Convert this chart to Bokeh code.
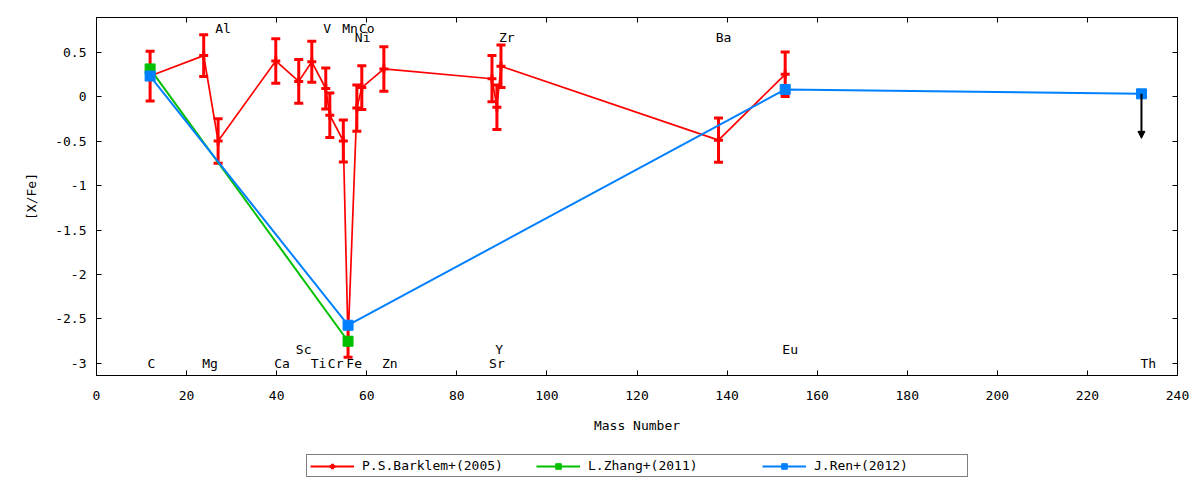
from bokeh.plotting import figure
from bokeh.layouts import column
from bokeh.models import (Range1d, LinearAxis, FixedTicker, ColumnDataSource, Whisker,
                          TeeHead, Arrow, NormalHead, Legend, LegendItem)
from bokeh.core.properties import value
from bokeh.embed import file_html
from bokeh.resources import INLINE

FONT = "DejaVu Sans Mono"
FS = "13px"

# ---- data ----
barklem_mass = [11.9, 23.8, 27.0, 39.8, 44.9, 47.8, 50.9, 51.8, 54.8, 55.85,
                57.8, 58.9, 63.8, 87.8, 88.9, 89.8, 138.1, 152.9]
barklem_xfe = [0.23, 0.46, -0.50, 0.40, 0.17, 0.39, 0.09, -0.21, -0.50, -2.75,
               -0.13, 0.10, 0.31, 0.20, -0.12, 0.34, -0.49, 0.25]
barklem_err = [0.28, 0.235, 0.25, 0.25, 0.245, 0.23, 0.23, 0.25, 0.235, 0.18,
               0.26, 0.245, 0.25, 0.26, 0.25, 0.24, 0.25, 0.25]

zhang_mass = [11.9, 55.85]
zhang_xfe = [0.31, -2.75]

ren_mass = [11.9, 55.85, 152.9, 232.0]
ren_xfe = [0.23, -2.57, 0.08, 0.03]

# Th upper limit arrow
th_mass = 232.0
th_from = 0.03
th_to = -0.47

label_text = ["C", "Mg", "Ca", "Sc", "Ti", "Cr", "Fe", "Zn", "Sr", "Y", "Eu", "Th",
              "Al", "V", "Mn", "Co", "Ni", "Zr", "Ba"]
label_mass = [12.2, 25.2, 41.2, 46.0, 49.3, 53.1, 57.2, 65.1, 88.9, 89.4, 154.0, 233.5,
              28.1, 51.2, 56.3, 60.0, 59.1, 91.1, 139.2]
label_y = [-3.0, -3.0, -3.0, -2.84, -3.0, -3.0, -3.0, -3.0, -3.0, -2.84, -2.84, -3.0,
           0.77, 0.77, 0.77, 0.77, 0.66, 0.66, 0.66]

series_names = ["P.S.Barklem+(2005)", "L.Zhang+(2011)", "J.Ren+(2012)"]

x_ticks = [0, 20, 40, 60, 80, 100, 120, 140, 160, 180, 200, 220, 240]
y_ticks = [-3, -2.5, -2, -1.5, -1, -0.5, 0, 0.5]
y_tick_labels = ["-3", "-2.5", "-2", "-1.5", "-1", "-0.5", "0", "0.5"]

RED = "#ff0000"
GREEN = "#00c000"
BLUE = "#0080ff"

p = figure(width=1192, height=435,
           x_range=Range1d(0, 240), y_range=Range1d(-3.135, 0.888),
           output_backend="svg", toolbar_location=None,
           min_border_left=96, min_border_right=15, min_border_top=17, min_border_bottom=60,
           background_fill_color="white", border_fill_color="white")
p.grid.visible = False
p.outline_line_color = "black"
p.outline_line_width = 1

xa = p.xaxis[0]
ya = p.yaxis[0]
xa.ticker = FixedTicker(ticks=x_ticks)
ya.ticker = FixedTicker(ticks=y_ticks)
ya.major_label_overrides = {t: s for t, s in zip(y_ticks, y_tick_labels)}
for ax in (xa, ya):
    ax.major_tick_in = 5
    ax.major_tick_out = 0
    ax.minor_tick_line_color = None
    ax.axis_line_color = "black"
    ax.major_tick_line_color = "black"
    ax.major_label_text_font = FONT
    ax.major_label_text_font_size = FS
    ax.major_label_text_color = "black"
    ax.axis_label_text_font = FONT
    ax.axis_label_text_font_size = FS
    ax.axis_label_text_font_style = "normal"
    ax.axis_label_text_color = "black"
xa.axis_label = "Mass Number"
ya.axis_label = "[X/Fe]"
xa.major_label_standoff = 15
xa.axis_label_standoff = 15
ya.major_label_standoff = 10
ya.axis_label_standoff = 13

# mirrored inward ticks on top and right
for loc, tk in (("above", x_ticks), ("right", y_ticks)):
    ax = LinearAxis(ticker=FixedTicker(ticks=tk), major_tick_in=5, major_tick_out=0,
                    minor_tick_line_color=None, major_label_text_font_size="1px",
                    major_label_text_color=None, major_label_standoff=0,
                    axis_line_color="black")
    p.add_layout(ax, loc)

# ---- Barklem ----
bsrc = ColumnDataSource(dict(
    x=barklem_mass, y=barklem_xfe,
    upper=[v + e for v, e in zip(barklem_xfe, barklem_err)],
    lower=[v - e for v, e in zip(barklem_xfe, barklem_err)]))
p.add_layout(Whisker(base="x", upper="upper", lower="lower", source=bsrc,
                     dimension="height", line_color=RED, line_width=3,
                     upper_head=TeeHead(size=9, line_color=RED, line_width=3),
                     lower_head=TeeHead(size=9, line_color=RED, line_width=3)))
p.line("x", "y", source=bsrc, line_color=RED, line_width=1.7)
p.scatter("x", "y", source=bsrc, marker="cross", size=9, line_color=RED, line_width=3)

# ---- Zhang ----
p.line(zhang_mass, zhang_xfe, line_color=GREEN, line_width=2)
p.scatter(zhang_mass, zhang_xfe, marker="square", size=10, fill_color=GREEN, line_color=GREEN)

# ---- Ren ----
p.line(ren_mass, ren_xfe, line_color=BLUE, line_width=2)
p.scatter(ren_mass, ren_xfe, marker="square", size=10, fill_color=BLUE, line_color=BLUE)

p.add_layout(Arrow(end=NormalHead(size=7, fill_color="black", line_color="black", line_width=1),
                   x_start=th_mass, y_start=th_from, x_end=th_mass, y_end=th_to,
                   line_color="black", line_width=2))

p.text(x=label_mass, y=label_y, text=label_text, text_font=value(FONT), text_font_size=FS,
       text_align="center", text_baseline="middle", text_color="black")

# ---- legend strip: same series plotted out of view, only the legend is visible ----
lg = figure(width=1192, height=44, output_backend="svg", toolbar_location=None,
            x_range=Range1d(-20, -10), y_range=Range1d(-3.135, 0.888),
            x_axis_location=None, y_axis_location=None,
            min_border=0, min_border_left=0, min_border_right=0,
            min_border_top=0, min_border_bottom=0,
            background_fill_color="white", border_fill_color="white")
lg.grid.visible = False
lg.outline_line_color = None
items = []
for name, xs, ys, col, mk, sz, lw in (
        (series_names[0], barklem_mass, barklem_xfe, RED, "cross", 9, 3),
        (series_names[1], zhang_mass, zhang_xfe, GREEN, "square", 8, 1),
        (series_names[2], ren_mass, ren_xfe, BLUE, "square", 8, 1)):
    rl = lg.line(x=xs, y=ys, line_color=col, line_width=2)
    rp = lg.scatter(x=xs, y=ys, marker=mk, size=sz, fill_color=col, line_color=col, line_width=lw)
    items.append(LegendItem(label=name, renderers=[rl, rp]))

legend = Legend(items=items, location=(210, 2), orientation="horizontal",
                label_text_font=FONT, label_text_font_size=FS, label_text_color="black",
                glyph_width=44, glyph_height=14, label_height=14, label_width=150,
                label_standoff=8, spacing=24, padding=3, margin=0,
                border_line_color="black", border_line_width=1,
                background_fill_color="white", background_fill_alpha=1)
lg.add_layout(legend)

open("out.html", "w").write(file_html(column(p, lg), INLINE))
